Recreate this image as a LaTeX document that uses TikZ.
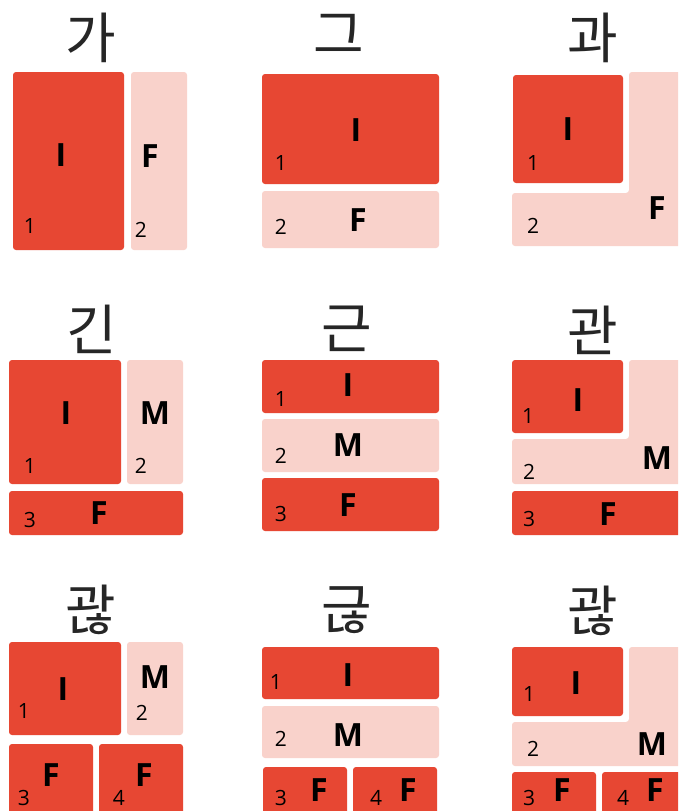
\documentclass[tikz,border=0pt]{standalone}
\usepackage{fontspec}
\setmainfont{Open Sans}
\newfontfamily\krfont{Noto Sans CJK KR}
\definecolor{SylRed}{RGB}{231,71,51}
\definecolor{SylPink}{RGB}{249,210,203}
\definecolor{SylInk}{RGB}{38,38,38}

\begin{document}
\begin{tikzpicture}[x=1pt, y=-1pt,
    full/.style={fill=SylRed, rounded corners=3pt},
    faint/.style={fill=SylPink, rounded corners=3pt},
    syl/.style={inner sep=0pt, text=SylInk, font=\krfont\fontsize{55}{60}\selectfont},
    part/.style={inner sep=0pt, font=\bfseries\fontsize{32}{36}\selectfont},
    idx/.style={inner sep=0pt, font=\fontsize{21}{24}\selectfont}]
    \useasboundingbox (0,0) rectangle (678,811);
    \clip (0,0) rectangle (678,811);
    \fill[white] (0,0) rectangle (678,811);
    % Syllables
    \foreach \s/\x/\y [count=\k] in {가/91/38, 그/339/34, 과/593/38,
        긴/92/329, 근/347/329, 관/593/330,
        ^^^^ad02/91/610, ^^^^adfe/347/610, ^^^^ad02/593/611} {
        \node[syl] (t\k) at (\x,\y) {\s};
    }
    % Row 1
    \fill[full] (13,72) rectangle (124,250);
    \fill[faint] (131,72) rectangle (187,250);
    \node[part] (i1) at (61,155) {I};
    \node[part] (f1) at (150,156) {F};
    \node[idx] (n11) at (30,226) {1};
    \node[idx] (n12) at (141,230) {2};
    \fill[full] (262,74) rectangle (439,184);
    \fill[faint] (262,191) rectangle (439,248);
    \node[part] (i2) at (356,130) {I};
    \node[part] (f2) at (358,220) {F};
    \node[idx] (n21) at (281,163) {1};
    \node[idx] (n22) at (281,227) {2};
    \fill[full] (513,75) rectangle (623,183);
    \fill[faint] (629,72) -- (700,72) -- (700,246) -- (512,246) -- (512,193) -- (629,193) -- cycle;
    \node[part] (i3) at (568,129) {I};
    \node[part] (f3) at (657,208) {F};
    \node[idx] (n31) at (533,163) {1};
    \node[idx] (n32) at (533,226) {2};
    % Row 2
    \fill[full] (9,360) rectangle (121,484);
    \fill[faint] (127,360) rectangle (183,484);
    \fill[full] (9,491) rectangle (183,535);
    \node[part] (i4) at (66,413) {I};
    \node[part] (m4) at (155,413) {M};
    \node[part] (f4) at (99,513) {F};
    \node[idx] (n41) at (30,466) {1};
    \node[idx] (n42) at (141,466) {2};
    \node[idx] (n43) at (30,520) {3};
    \fill[full] (262,360) rectangle (439,413);
    \fill[faint] (262,419) rectangle (439,472);
    \fill[full] (262,478) rectangle (439,531);
    \node[part] (i5) at (348,385) {I};
    \node[part] (m5) at (348,445) {M};
    \node[part] (f5) at (348,505) {F};
    \node[idx] (n51) at (281,399) {1};
    \node[idx] (n52) at (281,456) {2};
    \node[idx] (n53) at (281,514) {3};
    \fill[full] (512,360) rectangle (623,433);
    \fill[faint] (629,360) -- (700,360) -- (700,484) -- (512,484) -- (512,439) -- (629,439) -- cycle;
    \fill[full] (512,491) rectangle (700,535);
    \node[part] (i6) at (578,400) {I};
    \node[part] (m6) at (657,458) {M};
    \node[part] (f6) at (608,514) {F};
    \node[idx] (n61) at (528,416) {1};
    \node[idx] (n62) at (529,472) {2};
    \node[idx] (n63) at (529,519) {3};
    % Row 3
    \fill[full] (9,642) rectangle (121,735);
    \fill[faint] (127,642) rectangle (183,735);
    \fill[full] (9,744) rectangle (93,830);
    \fill[full] (99,744) rectangle (183,830);
    \node[part] (i7) at (63,689) {I};
    \node[part] (m7) at (155,677) {M};
    \node[part] (f7) at (51,775) {F};
    \node[part] (g7) at (144,775) {F};
    \node[idx] (n71) at (24,711) {1};
    \node[idx] (n72) at (142,713) {2};
    \node[idx] (n73) at (24,798) {3};
    \node[idx] (n74) at (119,798) {4};
    \fill[full] (262,647) rectangle (439,699);
    \fill[faint] (262,706) rectangle (439,758);
    \fill[full] (263,767) rectangle (347,830);
    \fill[full] (353,767) rectangle (437,830);
    \node[part] (i8) at (348,675) {I};
    \node[part] (m8) at (348,735) {M};
    \node[part] (f8) at (319,790) {F};
    \node[part] (g8) at (408,790) {F};
    \node[idx] (n81) at (276,682) {1};
    \node[idx] (n82) at (281,739) {2};
    \node[idx] (n83) at (281,798) {3};
    \node[idx] (n84) at (376,798) {4};
    \fill[full] (512,647) rectangle (623,716);
    \fill[faint] (629,647) -- (700,647) -- (700,766) -- (512,766) -- (512,722) -- (629,722) -- cycle;
    \fill[full] (512,772) rectangle (596,830);
    \fill[full] (602,772) rectangle (700,830);
    \node[part] (i9) at (576,683) {I};
    \node[part] (m9) at (652,744) {M};
    \node[part] (f9) at (562,790) {F};
    \node[part] (g9) at (655,790) {F};
    \node[idx] (n91) at (529,694) {1};
    \node[idx] (n92) at (533,749) {2};
    \node[idx] (n93) at (529,798) {3};
    \node[idx] (n94) at (623,798) {4};
\end{tikzpicture}
\end{document}
